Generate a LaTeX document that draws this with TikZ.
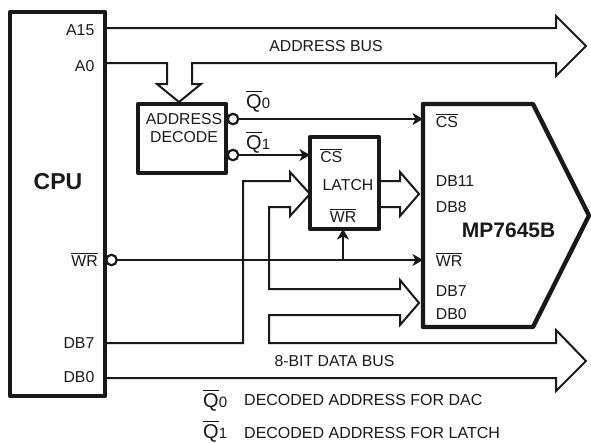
\documentclass[tikz,border=0pt]{standalone}
\usepackage{fontspec}
\setmainfont{Liberation Sans}
\usepackage{amsmath}
\usetikzlibrary{positioning,arrows.meta}
\newcommand{\ovl}[1]{$\overline{\mbox{#1}}$}
\newcommand{\Qsig}[1]{{\fontsize{20}{20}\selectfont\ovl{Q}}{\fontsize{15}{15}\selectfont #1}}

\begin{document}
\begin{tikzpicture}[x=1pt, y=-1pt, font=\fontsize{15.8}{18}\selectfont, color=black!90,
  box/.style={draw, line width=4.4pt, line join=round, inner sep=0pt, outer sep=0pt},
  bub/.style={draw, circle, fill=white, line width=2.2pt, minimum size=10.5pt, inner sep=0pt, outer sep=0pt},
  bus/.style={line width=2pt, miter limit=10},
  sig/.style={line width=2pt, -{Stealth[length=10.5pt, width=12pt, inset=3pt]}},
  lab/.style={inner sep=0pt, text height=11.3pt, text depth=0pt},
  big/.style={lab, font=\fontsize{23}{26}\bfseries\selectfont, text height=16.5pt},
  qlab/.style={lab, text height=14.3pt},
  leg/.style={lab, anchor=west, font=\fontsize{16}{18}\selectfont}]
\useasboundingbox (0,0) rectangle (591,442);

% pin points on the bus lines
\coordinate (a15) at (105,28);
\coordinate (a0) at (105,63);
\coordinate (db7) at (105,343);
\coordinate (db0) at (105,378);
\coordinate (latchoa) at (379,181);
\coordinate (latchob) at (379,207);
\coordinate (dacq0) at (423,119);
\coordinate (dacwr) at (423,260);
\coordinate (wrj) at (343,260);

% buses
\draw[bus] (a15) -- (556,28) -- (556,16) -- (586,46) -- (556,76) -- (556,63) -- (192,63) -- (192,84)
  -- (201,84) -- (179,102) -- (157,84) -- (167,84) -- (167,63) -- (a0);
\draw[bus] (db7) -- (243,343) -- (243,181) -- (290,181) -- (290,172) -- (310,194) -- (290,216) -- (290,207)
  -- (269,207) -- (269,289) -- (400,289) -- (400,280) -- (419,303) -- (400,325) -- (400,315) -- (269,315)
  -- (269,343) -- (556,343) -- (556,330) -- (586,361) -- (556,391) -- (556,378) -- (db0);
\draw[bus] (latchoa) -- (400,181) -- (400,172) -- (419,194) -- (400,216) -- (400,207) -- (latchob);

% blocks
\node[box, minimum width=95pt, minimum height=384pt] (cpu) at (57.5,204) {};
\node[box, minimum width=88pt, minimum height=69pt] (decode) at (182,138.5) {};
\node[box, minimum width=69pt, minimum height=92pt] (latch) at (344.5,183) {};
\draw[box] (423,104) -- (533,104) -- (589,215.5) -- (533,327) -- (423,327) -- cycle;

% inverted outputs
\node[bub] (bq0) at (233,119) {};
\node[bub] (bq1) at (233,155) {};
\node[bub] (bwr) at (111.5,260) {};

% control lines
\draw[sig] (bq0) -- (dacq0);
\draw[sig] (bq1) -- (bq1 -| latch.west);
\draw[sig] (bwr) -- (dacwr);
\draw[sig] (wrj) -- (wrj |- latch.south);

% cpu pins
\node[big] (cpulab) at (58,181) {CPU};
\node[lab, anchor=east] (a15lab) at (94.5,30) {A15};
\node[lab, anchor=east] (a0lab) at (94.5,66) {A0};
\node[lab, anchor=east] (wrlab) at (98,260.7) {\ovl{WR}};
\node[lab, anchor=east] (db7lab) at (94.5,343) {DB7};
\node[lab, anchor=east] (db0lab) at (94.5,377) {DB0};

% decoder and latch
\node[lab, align=center] (decodelab) at (184,137) {ADDRESS\\DECODE};
\node[qlab, anchor=west] (q0lab) at (246,101) {\Qsig{0}};
\node[qlab, anchor=west] (q1lab) at (246,142) {\Qsig{1}};
\node[lab] (latchcs) at (331.3,157) {\ovl{CS}};
\node[lab] (latchname) at (348,185) {LATCH};
\node[lab] (latchwr) at (343,217) {\ovl{WR}};

% dac
\node[lab, anchor=west] (daccs) at (435.7,121.7) {\ovl{CS}};
\node[lab, anchor=west] (dacdba) at (435.7,180.7) {DB11};
\node[lab, anchor=west] (dacdbb) at (435.7,206.7) {DB8};
\node[big, font=\fontsize{21}{24}\bfseries\selectfont, text height=15pt, anchor=west] (dacname) at (461.7,230) {MP7645B};
\node[lab, anchor=west] (dacwrlab) at (435.7,260.7) {\ovl{WR}};
\node[lab, anchor=west] (dacdbc) at (435.7,290.7) {DB7};
\node[lab, anchor=west] (dacdbd) at (435.7,314) {DB0};

% bus names and legend
\node[lab] (addrbus) at (326,46) {ADDRESS BUS};
\node[lab] (databus) at (334.5,361) {8-BIT DATA BUS};
\node[qlab, anchor=west] (legq0) at (203,400) {\Qsig{0}};
\node[leg] (legq0txt) at (244,400) {DECODED ADDRESS FOR DAC};
\node[qlab, anchor=west] (legq1) at (203,431.5) {\Qsig{1}};
\node[leg] (legq1txt) at (244,432.7) {DECODED ADDRESS FOR LATCH};
\end{tikzpicture}
\end{document}
